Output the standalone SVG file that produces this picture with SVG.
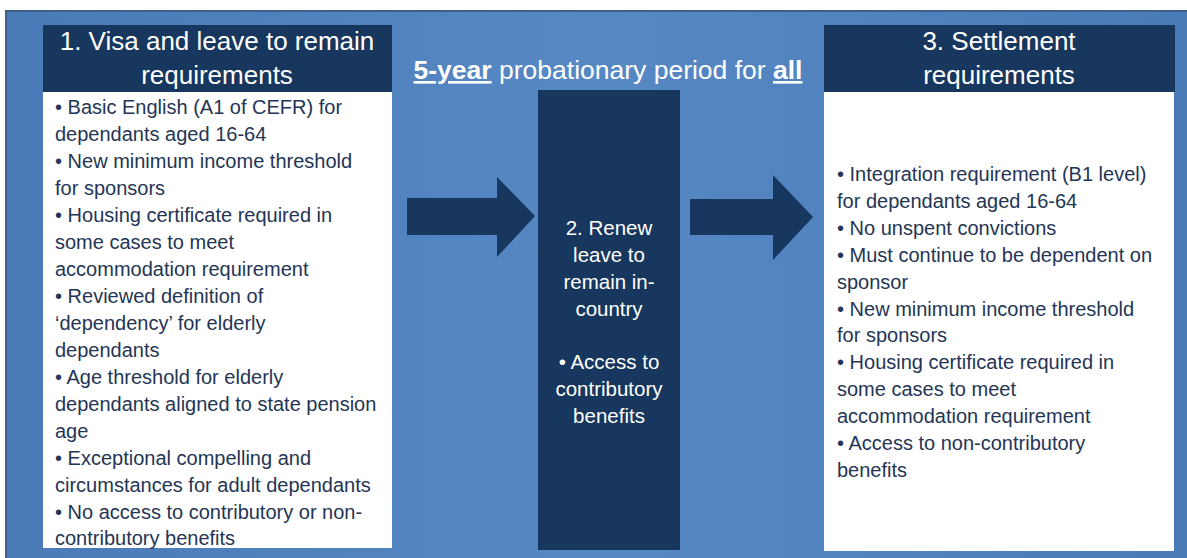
<svg xmlns="http://www.w3.org/2000/svg" width="1187" height="558" viewBox="0 0 1187 558">
<defs>
<linearGradient id="bg" x1="0" y1="0" x2="1" y2="0">
<stop offset="0" stop-color="#4a7bb8"/>
<stop offset="0.5" stop-color="#5688c4"/>
<stop offset="1" stop-color="#4a7bb8"/>
</linearGradient>
<style>
.hdr{fill:#17375e}
.body{fill:#ffffff}
.mid{fill:#17375e}
.arrow{fill:#17375e}
.ht{font-family:"Liberation Sans",Arial,sans-serif;font-size:26px;fill:#ffffff;text-anchor:middle}
.bt{font-family:"Liberation Sans",Arial,sans-serif;font-size:20px;fill:#243555}
.mt{font-family:"Liberation Sans",Arial,sans-serif;font-size:20.5px;fill:#ffffff;text-anchor:middle}
.tt{font-family:"Liberation Sans",Arial,sans-serif;font-size:26.5px;fill:#ffffff;text-anchor:middle}
</style>
</defs>
<rect x="0" y="0" width="1187" height="558" fill="#ffffff"/>
<rect x="6" y="11" width="1190" height="560" fill="url(#bg)" stroke="#3e5f86" stroke-width="2"/>

<g id="connectors">
<polygon class="arrow" points="407,198 497,198 497,177 535,216 497,257 497,235 407,235"/>
<polygon class="arrow" points="690,199 773,199 773,175 813,217 773,260 773,235 690,235"/>
</g>

<g id="node1">
<rect class="hdr" x="43" y="25" width="349" height="67"/>
<text class="ht" x="217" y="50">1. Visa and leave to remain</text>
<text class="ht" x="217" y="84">requirements</text>
<rect class="body" x="43" y="92" width="349" height="456"/>
<text class="bt" x="55" y="114">• Basic English (A1 of CEFR) for</text>
<text class="bt" x="55" y="141">dependants aged 16-64</text>
<text class="bt" x="55" y="168">• New minimum income threshold</text>
<text class="bt" x="55" y="195">for sponsors</text>
<text class="bt" x="55" y="222">• Housing certificate required in</text>
<text class="bt" x="55" y="249">some cases to meet</text>
<text class="bt" x="55" y="276">accommodation requirement</text>
<text class="bt" x="55" y="303">• Reviewed definition of</text>
<text class="bt" x="55" y="330">‘dependency’ for elderly</text>
<text class="bt" x="55" y="357">dependants</text>
<text class="bt" x="55" y="384">• Age threshold for elderly</text>
<text class="bt" x="55" y="411">dependants aligned to state pension</text>
<text class="bt" x="55" y="438">age</text>
<text class="bt" x="55" y="465">• Exceptional compelling and</text>
<text class="bt" x="55" y="492">circumstances for adult dependants</text>
<text class="bt" x="55" y="519">• No access to contributory or non-</text>
<text class="bt" x="55" y="545">contributory benefits</text>
</g>

<g id="title">
<text class="tt" x="608" y="79"><tspan font-weight="bold" text-decoration="underline">5-year</tspan> probationary period for <tspan font-weight="bold" text-decoration="underline">all</tspan></text>
</g>

<g id="node2">
<rect class="mid" x="538" y="90" width="142" height="460"/>
<text class="mt" x="609" y="235">2. Renew</text>
<text class="mt" x="609" y="262">leave to</text>
<text class="mt" x="609" y="289">remain in-</text>
<text class="mt" x="609" y="316">country</text>
<text class="mt" x="609" y="369">• Access to</text>
<text class="mt" x="609" y="396">contributory</text>
<text class="mt" x="609" y="423">benefits</text>
</g>

<g id="node3">
<rect class="hdr" x="824" y="25" width="351" height="67"/>
<text class="ht" x="999" y="50">3. Settlement</text>
<text class="ht" x="999" y="84">requirements</text>
<rect class="body" x="824" y="92" width="350" height="459"/>
<text class="bt" x="837" y="181">• Integration requirement (B1 level)</text>
<text class="bt" x="837" y="208">for dependants aged 16-64</text>
<text class="bt" x="837" y="235">• No unspent convictions</text>
<text class="bt" x="837" y="262">• Must continue to be dependent on</text>
<text class="bt" x="837" y="289">sponsor</text>
<text class="bt" x="837" y="316">• New minimum income threshold</text>
<text class="bt" x="837" y="342">for sponsors</text>
<text class="bt" x="837" y="369">• Housing certificate required in</text>
<text class="bt" x="837" y="396">some cases to meet</text>
<text class="bt" x="837" y="423">accommodation requirement</text>
<text class="bt" x="837" y="450">• Access to non-contributory</text>
<text class="bt" x="837" y="477">benefits</text>
</g>
</svg>
